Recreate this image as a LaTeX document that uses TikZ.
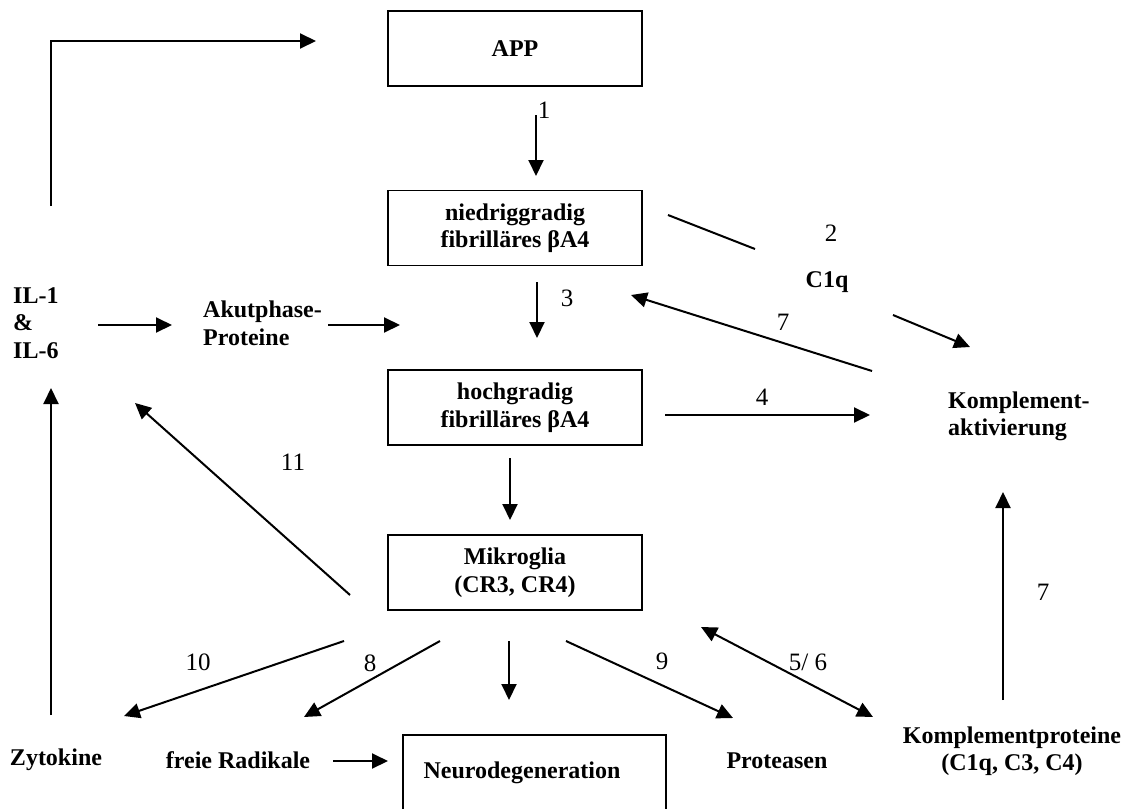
\documentclass[tikz,border=0pt]{standalone}
\usepackage{fontspec}
\setmainfont{Liberation Serif}
\usetikzlibrary{arrows.meta}
\begin{document}
\begin{tikzpicture}[x=1pt,y=-1pt,
  every node/.style={font=\fontsize{24}{27.5}\selectfont},
  boxnode/.style={draw,line width=1.8pt,minimum width=254pt,minimum height=75pt,inner sep=0pt,font=\fontsize{24}{27.5}\selectfont\bfseries,align=center},
  txt/.style={font=\fontsize{24}{27.5}\selectfont\bfseries,inner sep=0pt},
  num/.style={font=\fontsize{25}{28}\selectfont,inner sep=0pt},
  conn/.style={line width=2pt},
  arr/.style={line width=2pt,-{Triangle[length=16pt,width=15pt]}},
  darr/.style={line width=2pt,{Triangle[length=16pt,width=15pt]}-{Triangle[length=16pt,width=15pt]}}]
\useasboundingbox (0,0) rectangle (1126,808);
\fill[white] (0,0) rectangle (1126,808);
% boxes
\node[boxnode] (app) at (515,48.5) {APP};
\node[boxnode] (nied) at (515,228) {niedriggradig\\fibrilläres βA4};
\node[boxnode] (hoch) at (515,407.5) {hochgradig\\fibrilläres βA4};
\node[boxnode] (mikro) at (515,572.5) {Mikroglia\\(CR3, CR4)};
\node[boxnode,minimum width=263pt] (neuro) at (534.5,772.5) {};
\node[txt] (neurotxt) at (522,773) {Neurodegeneration};
% text nodes
\node[txt,anchor=west,align=left] (il) at (13,323) {IL-1\\\&\\IL-6};
\node[txt,anchor=west,align=left] (akut) at (203,323.5) {Akutphase-\\Proteine};
\node[txt] (c1q) at (827,282) {C1q};
\node[txt,anchor=west,align=left] (kakt) at (948,416.5) {Komplement-\\aktivierung};
\node[txt] (zyt) at (56,760) {Zytokine};
\node[txt] (rad) at (238,760) {freie Radikale};
\node[txt] (prot) at (777,761) {Proteasen};
\node[txt,align=center] (kprot) at (1012,751) {Komplementproteine\\(C1q, C3, C4)};
% numbers
\node[num] (n1) at (544,110) {1};
\node[num] (n2) at (831,233) {2};
\node[num] (n3) at (567,298) {3};
\node[num] (n7a) at (783,322) {7};
\node[num] (n4) at (762,397) {4};
\node[num] (n11) at (293,462) {11};
\node[num] (n7b) at (1043,592) {7};
\node[num] (n10) at (198,662) {10};
\node[num] (n8) at (370,663) {8};
\node[num] (n9) at (662,661) {9};
\node[num] (n56) at (808,662) {5/ 6};
% coordinates
\coordinate (a1s) at (536,115); \coordinate (a1e) at (536,176);
\coordinate (l2s) at (668,215); \coordinate (l2e) at (755,249);
\coordinate (a3s) at (537,282); \coordinate (a3e) at (537,338);
\coordinate (c1s) at (893,315); \coordinate (c1e) at (970,347);
\coordinate (a7s) at (872,371); \coordinate (a7e) at (631,295);
\coordinate (a4s) at (665,415); \coordinate (a4e) at (870,415);
\coordinate (ils) at (98,325); \coordinate (ile) at (172,325);
\coordinate (aks) at (328,325); \coordinate (ake) at (400,325);
\coordinate (hms) at (510,458); \coordinate (hme) at (510,520);
\coordinate (a11s) at (350,595); \coordinate (a11e) at (135,403);
\coordinate (a10s) at (344,641); \coordinate (a10e) at (124,716);
\coordinate (a8s) at (440,641); \coordinate (a8e) at (304,717);
\coordinate (mns) at (509,641); \coordinate (mne) at (509,700);
\coordinate (a9s) at (566,641); \coordinate (a9e) at (733,718);
\coordinate (a56s) at (701,627); \coordinate (a56e) at (873,717);
\coordinate (a7bs) at (1003,700); \coordinate (a7be) at (1003,492);
\coordinate (zys) at (51,715); \coordinate (zye) at (51,388);
\coordinate (ls) at (51,206); \coordinate (lc) at (51,41); \coordinate (le) at (316,41);
\coordinate (rns) at (333,761); \coordinate (rne) at (388,761);
% connectors
\draw[arr] (a1s) -- (a1e);
\draw[conn] (l2s) -- (l2e);
\draw[arr] (a3s) -- (a3e);
\draw[arr] (c1s) -- (c1e);
\draw[arr] (a7s) -- (a7e);
\draw[arr] (a4s) -- (a4e);
\draw[arr] (ils) -- (ile);
\draw[arr] (aks) -- (ake);
\draw[arr] (hms) -- (hme);
\draw[arr] (a11s) -- (a11e);
\draw[arr] (a10s) -- (a10e);
\draw[arr] (a8s) -- (a8e);
\draw[arr] (mns) -- (mne);
\draw[arr] (a9s) -- (a9e);
\draw[darr] (a56s) -- (a56e);
\draw[arr] (a7bs) -- (a7be);
\draw[arr] (zys) -- (zye);
\draw[arr,line join=miter] (ls) -- (lc) -- (le);
\draw[arr] (rns) -- (rne);
\end{tikzpicture}
\end{document}
